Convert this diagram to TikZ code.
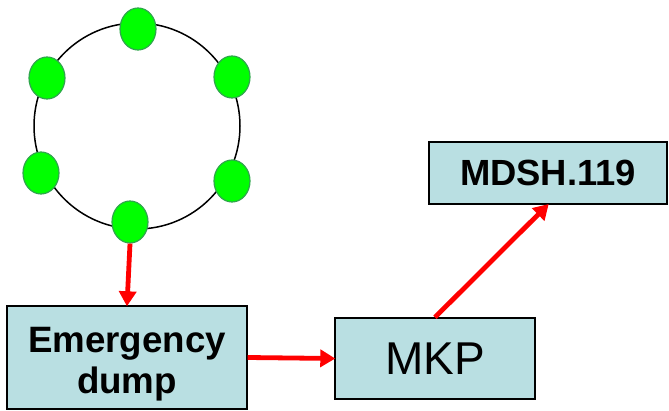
\documentclass[tikz,border=0pt]{standalone}
\usepackage{fontspec}
\setmainfont{Liberation Sans}
\usetikzlibrary{shapes.geometric,arrows.meta}
\definecolor{boxfill}{HTML}{B9DFE2}
\definecolor{nodegreen}{HTML}{00FF00}
\definecolor{nodeedge}{HTML}{2FA64C}
\definecolor{flowred}{HTML}{FF0000}
\begin{document}
\begin{tikzpicture}[x=1pt,y=-1pt,
  box/.style={draw=black,line width=1.4pt,fill=boxfill,rectangle,inner sep=0pt},
  member/.style={ellipse,draw=nodeedge,line width=1.2pt,fill=nodegreen,
    minimum width=36pt,minimum height=42pt,inner sep=0pt},
  flow/.style={draw=flowred,line width=4.8pt,
    -{Triangle[length=15pt,width=17pt]},shorten >=-1pt}]
\useasboundingbox (0,0) rectangle (669,411);

% ring of members
\node[circle,draw=black,line width=1.5pt,minimum size=206pt,inner sep=0pt] (ring) at (137,126) {};
\node[member] (m1) at (138,29) {};
\node[member] (m2) at (232,77) {};
\node[member] (m3) at (232,181) {};
\node[member] (m4) at (130,222) {};
\node[member] (m5) at (41,173) {};
\node[member] (m6) at (47,78) {};

% boxes
\node[box,minimum width=240pt,minimum height=103pt] (dump) at (127,357.5) {};
\node[align=center,inner sep=0pt,
  font=\fontsize{36.7}{41}\selectfont\bfseries] (dumptext) at (127,364)
  {Emergency\\dump};
\node[box,minimum width=200pt,minimum height=81pt,
  font=\fontsize{46}{50}\selectfont] (mkp) at (435,358.5) {MKP};
\node[box,minimum width=238pt,minimum height=62pt,
  font=\fontsize{36.4}{40}\selectfont\bfseries] (mdsh) at (548,173) {MDSH.119};

% flows
\draw[flow] (m4.south) -- (dump.north);
\draw[flow] (dump.east) -- (mkp.west);
\draw[flow] (mkp.north) -- (mdsh.south);
\end{tikzpicture}
\end{document}
